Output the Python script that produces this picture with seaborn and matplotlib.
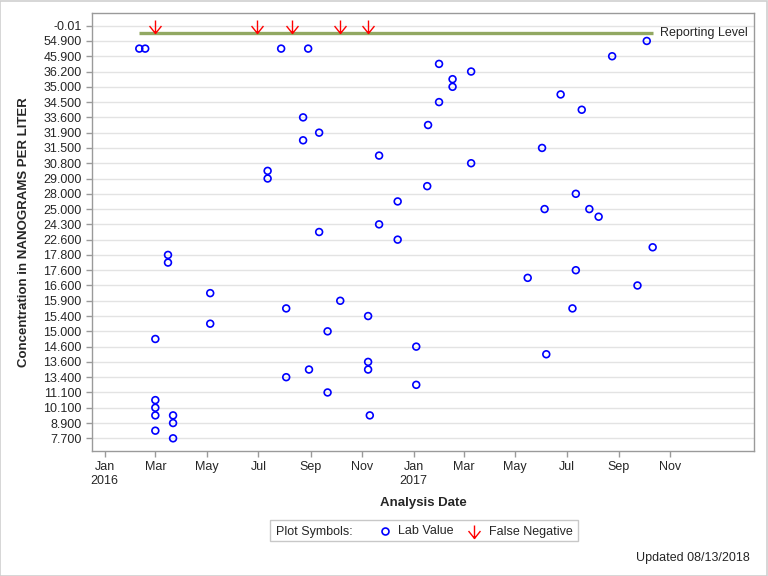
import matplotlib.pyplot as plt
import matplotlib.dates as mdates
import pandas as pd
import seaborn as sns
from matplotlib.lines import Line2D
from matplotlib.patches import Rectangle
from matplotlib.path import Path

# y axis is discrete: one slot per distinct reported value, every other one labelled
levels = [
    "-0.01", "RL", "54.900", "50.300", "45.900", "40.100", "36.200", "35.600",
    "35.000", "34.800", "34.500", "34.000", "33.600", "32.700", "31.900", "31.700",
    "31.500", "31.100", "30.800", "29.900", "29.000", "28.500", "28.000", "26.500",
    "25.000", "24.600", "24.300", "23.400", "22.600", "20.100", "17.800", "17.700",
    "17.600", "17.100", "16.600", "16.200", "15.900", "15.600", "15.400", "15.200",
    "15.000", "14.800", "14.600", "14.100", "13.600", "13.500", "13.400", "12.300",
    "11.100", "10.600", "10.100", "9.500", "8.900", "8.200", "7.700",
]
reporting_level = "RL"

lab_dates = [
    "2016-02-11", "2016-02-18", "2016-07-28", "2016-08-29", "2016-08-23",
    "2016-09-11", "2016-08-23", "2016-07-12", "2016-07-12", "2016-09-11",
    "2016-03-16", "2016-03-16", "2016-05-05", "2016-08-03", "2016-05-05",
    "2016-03-01", "2016-08-30", "2016-08-03", "2016-03-01", "2016-03-01",
    "2016-03-01", "2016-03-22", "2016-03-22", "2016-03-01", "2016-03-22",
    "2017-01-31", "2017-03-10", "2017-02-16", "2017-02-16", "2017-01-31",
    "2017-01-18", "2016-11-21", "2017-03-10", "2017-01-17", "2016-12-13",
    "2016-11-21", "2016-12-13", "2017-05-16", "2016-10-06", "2016-11-08",
    "2016-09-21", "2017-01-04", "2016-11-08", "2016-11-08", "2017-01-04",
    "2016-09-21", "2016-11-10", "2017-10-04", "2017-08-24", "2017-06-24",
    "2017-07-19", "2017-06-02", "2017-07-12", "2017-06-05", "2017-07-28",
    "2017-08-08", "2017-10-11", "2017-07-12", "2017-09-23", "2017-07-08",
    "2017-06-07",
]
lab_values = [
    "50.300", "50.300", "50.300", "50.300", "33.600",
    "31.900", "31.700", "29.900", "29.000", "23.400",
    "17.800", "17.700", "16.200", "15.600", "15.200",
    "14.800", "13.500", "13.400", "10.600", "10.100",
    "9.500", "9.500", "8.900", "8.200", "7.700",
    "40.100", "36.200", "35.600", "35.000", "34.500",
    "32.700", "31.100", "30.800", "28.500", "26.500",
    "24.300", "22.600", "17.100", "15.900", "15.400",
    "15.000", "14.600", "13.600", "13.500", "12.300",
    "11.100", "9.500", "54.900", "45.900", "34.800",
    "34.000", "31.500", "28.000", "25.000", "25.000",
    "24.600", "20.100", "17.600", "16.600", "15.600",
    "14.100",
]
fn_dates = ["2016-03-01", "2016-06-29", "2016-08-10", "2016-10-06", "2016-11-08"]

tick_dates = pd.date_range("2016-01-01", "2017-11-01", freq="2MS")

sns.set_style("white")
plt.rcParams["font.family"] = ["Liberation Sans", "DejaVu Sans"]

lab = pd.DataFrame({"date": pd.to_datetime(lab_dates), "value": lab_values})
lab["pos"] = [levels.index(v) for v in lab["value"]]
fn = pd.DataFrame({"date": pd.to_datetime(fn_dates)})
fn["pos"] = levels.index(reporting_level)

fig = plt.figure(figsize=(7.68, 5.76), dpi=100)
ax = fig.add_axes([92 / 768, 125 / 576, 662 / 768, 438 / 576])

ax.grid(axis="y", color="#e3e3e3", linewidth=1)
ax.set_axisbelow(True)

# reporting level spans the sampling period
rl_pos = levels.index(reporting_level)
ax.plot([lab["date"].min(), lab["date"].max()], [rl_pos, rl_pos],
        color="#92a862", linewidth=2.4, solid_capstyle="butt", zorder=2)
ax.text(lab["date"].max() + pd.Timedelta(days=9), rl_pos, "Reporting Level",
        va="center", ha="left", fontsize=9)

sns.scatterplot(data=lab, x="date", y="pos", ax=ax, marker="o", s=24,
                facecolor="none", edgecolor="#0000ff", linewidth=1.2, zorder=3)

# open down arrow with its tip on the point
arrow = Path([(0, 2), (0, 0), (-0.92, 1.15), (0, 0), (0.92, 1.15)],
             [Path.MOVETO, Path.LINETO, Path.MOVETO, Path.LINETO, Path.LINETO])
ax.plot(fn["date"], fn["pos"], linestyle="none", marker=arrow, markersize=18.7,
        markeredgecolor="#ff0000", markerfacecolor="none", markeredgewidth=1,
        zorder=4)

ax.set_ylim(len(levels) + 0.66, -1.66)
ax.set_yticks(range(0, len(levels), 2))
ax.set_yticklabels(levels[::2])

ax.set_xlim(pd.Timestamp("2015-12-17"), pd.Timestamp("2018-02-08"))
ax.set_xticks(mdates.date2num(tick_dates))
ax.set_xticklabels([d.strftime("%b") + (d.strftime("\n%Y") if d.month == 1 else "")
                    for d in tick_dates])

ax.tick_params(axis="both", labelsize=9, length=4, width=1, color="#9a9a9a",
               pad=3.5, left=True, bottom=True)
for spine in ax.spines.values():
    spine.set_color("#9a9a9a")
    spine.set_linewidth(1)

ax.set_xlabel("Analysis Date", fontsize=9.5, fontweight="bold")
ax.set_ylabel("Concentration in NANOGRAMS PER LITER", fontsize=9.5,
              fontweight="bold")
ax.xaxis.set_label_coords(0.5, -0.105)
ax.yaxis.set_label_coords(-0.094, 0.5)


# legend box, drawn in figure pixels
def fx(px):
    return px / 768


def fy(py):
    return (576 - py) / 576


fig.add_artist(Rectangle((fx(269.5), fy(540.5)), fx(577.5) - fx(269.5),
                         fy(520) - fy(540.5), transform=fig.transFigure,
                         facecolor="white", edgecolor="#c8c8c8", linewidth=1))
fig.text(fx(275.5), fy(534.5), "Plot Symbols:", fontsize=9, va="baseline")
fig.add_artist(Line2D([fx(385.3)], [fy(530.5)], transform=fig.transFigure,
                      marker="o", markersize=5, markerfacecolor="none",
                      markeredgecolor="#0000ff", markeredgewidth=1.2))
fig.text(fx(398.5), fy(534.5), "Lab Value", fontsize=9, va="baseline")
fig.add_artist(Line2D([fx(473.7)], [fy(538)], transform=fig.transFigure,
                      marker=arrow, markersize=18.7, markerfacecolor="none",
                      markeredgecolor="#ff0000", markeredgewidth=1))
fig.text(fx(489), fy(534.5), "False Negative", fontsize=9, va="baseline")

fig.text(fx(750), fy(560.5), "Updated 08/13/2018", fontsize=9, ha="right",
         va="baseline")

fig.add_artist(Rectangle((0.0005, 0.0008), 0.998, 0.998, transform=fig.transFigure,
                         facecolor="none", edgecolor="#cfcfcf", linewidth=1.2))

fig.savefig("out.png", dpi=100)
